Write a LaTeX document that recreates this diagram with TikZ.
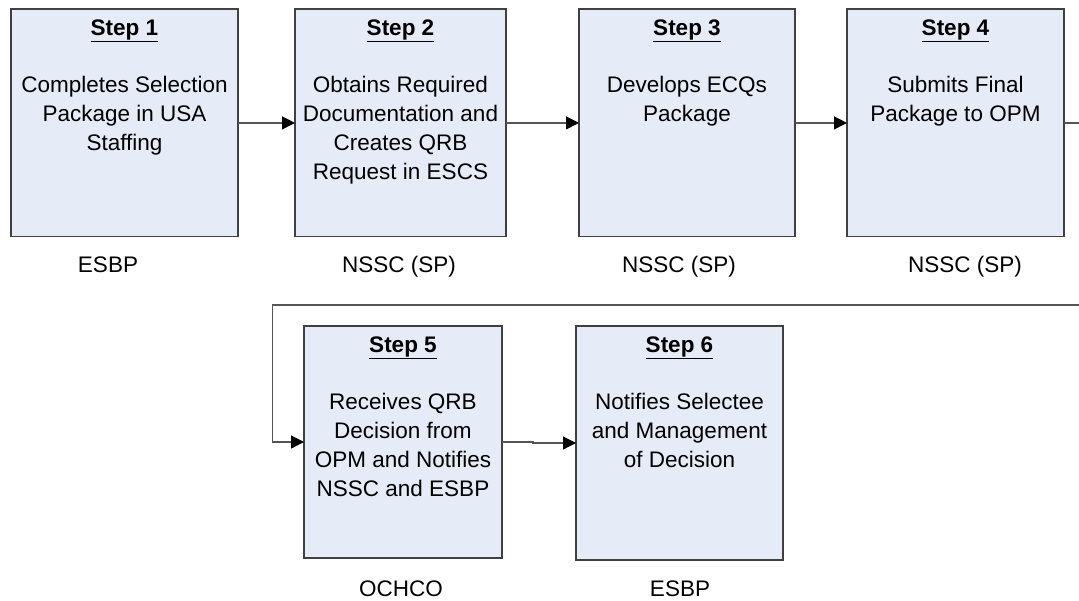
\documentclass[tikz,border=0pt]{standalone}
\usepackage{fontspec}
\setmainfont{Liberation Sans}
\usetikzlibrary{arrows.meta}
\definecolor{boxfill}{HTML}{E6ECF7}
\definecolor{boxline}{HTML}{404040}
\definecolor{conline}{HTML}{555555}
\begin{document}
\begin{tikzpicture}[x=1pt,y=-1pt,
  stepbox/.style={draw=boxline,fill=boxfill,line width=1.2pt,inner sep=0pt,outer sep=0pt},
  steplabel/.style={anchor=base,inner sep=0pt,font=\fontsize{22.5}{29}\selectfont\bfseries},
  bodytext/.style={anchor=north,inner sep=0pt,align=center,font=\fontsize{22.5}{29}\selectfont},
  owner/.style={anchor=base,inner sep=0pt,font=\fontsize{22.5}{29}\selectfont},
  conn/.style={draw=conline,line width=1.2pt,-{Triangle[length=13pt,width=13pt,fill=black,color=black]}}]
\useasboundingbox (0,0) rectangle (1079,600);
\fill[white] (0,0) rectangle (1079,600);
% boxes
\node[stepbox,minimum width=227pt,minimum height=227.7pt] (b1) at (124.5,122.9) {};
\node[stepbox,minimum width=211pt,minimum height=227.7pt] (b2) at (400.5,122.9) {};
\node[stepbox,minimum width=216pt,minimum height=227.7pt] (b3) at (687,122.9) {};
\node[stepbox,minimum width=217pt,minimum height=227.7pt] (b4) at (955.5,122.9) {};
\node[stepbox,minimum width=198pt,minimum height=232pt] (b5) at (403,442) {};
\node[stepbox,minimum width=207pt,minimum height=234pt] (b6) at (679.5,443) {};
% step labels
\node[steplabel] (s1) at ([yshift=-26pt]b1.north) {\underline{Step 1}};
\node[steplabel] (s2) at ([yshift=-26pt]b2.north) {\underline{Step 2}};
\node[steplabel] (s3) at ([yshift=-26pt]b3.north) {\underline{Step 3}};
\node[steplabel] (s4) at ([yshift=-26pt]b4.north) {\underline{Step 4}};
\node[steplabel] (s5) at ([yshift=-26pt]b5.north) {\underline{Step 5}};
\node[steplabel] (s6) at ([yshift=-26pt]b6.north) {\underline{Step 6}};
% body texts
\node[bodytext] (t1) at ([yshift=-67pt]b1.north) {Completes Selection\\Package in USA\\Staffing};
\node[bodytext] (t2) at ([yshift=-67pt]b2.north) {Obtains Required\\Documentation and\\Creates QRB\\Request in ESCS};
\node[bodytext] (t3) at ([yshift=-67pt]b3.north) {Develops ECQs\\Package};
\node[bodytext] (t4) at ([yshift=-67pt]b4.north) {Submits Final\\Package to OPM};
\node[bodytext] (t5) at ([yshift=-67pt]b5.north) {Receives QRB\\Decision from\\OPM and Notifies\\NSSC and ESBP};
\node[bodytext] (t6) at ([yshift=-67pt]b6.north) {Notifies Selectee\\and Management\\of Decision};
% owners
\node[owner] (o1) at (108,272) {ESBP};
\node[owner] (o2) at (399,272) {NSSC (SP)};
\node[owner] (o3) at (679,272) {NSSC (SP)};
\node[owner] (o4) at (965,272) {NSSC (SP)};
\node[owner] (o5) at (401,596) {OCHCO};
\node[owner] (o6) at (680,596) {ESBP};
% connectors
\draw[conn] (b1.east) -- (b2.west);
\draw[conn] (b2.east) -- (b3.west);
\draw[conn] (b3.east) -- (b4.west);
\coordinate (j1) at (533,442);
\draw[conn] (b5.east) -- (j1) |- (b6.west);
\coordinate (r1) at (1100,305);
\coordinate (l1) at (272.7,305);
\draw[conn] (b4.east) -| (r1) -- (l1) |- (b5.west);
\end{tikzpicture}
\end{document}
